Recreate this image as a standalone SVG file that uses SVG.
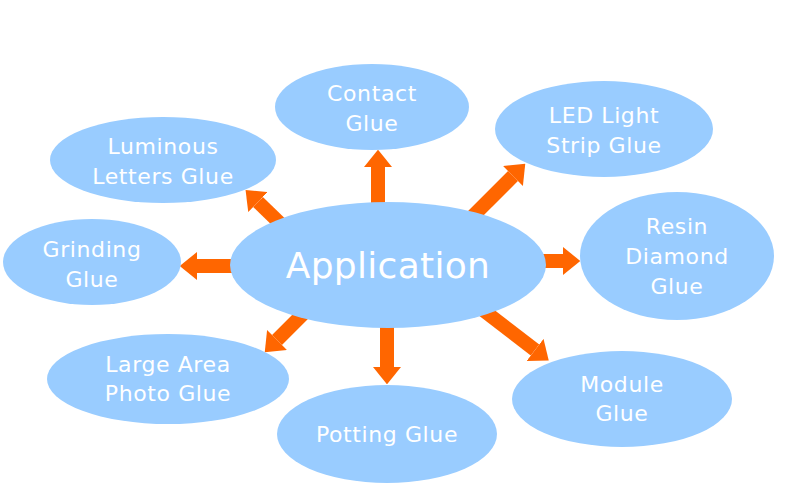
<svg xmlns="http://www.w3.org/2000/svg" width="800" height="496" viewBox="0 0 800 496">
<style>
.node ellipse{fill:#99CCFF;}
.node text{fill:#FFFFFF;font-family:"DejaVu Sans",Verdana,sans-serif;font-size:22px;letter-spacing:0.6px;text-anchor:middle;dominant-baseline:central;}
.node text.big{font-size:36px;letter-spacing:0.3px;}
.conn line{stroke:#FF6600;stroke-width:14;marker-end:url(#head);}
</style>
<defs>
<marker id="head" viewBox="0 0 13 21" markerWidth="1.25" markerHeight="2.0" refX="0" refY="10.5" orient="auto">
<path d="M0,0 L13,10.5 L0,21 Z" fill="#FF6600"/>
</marker>
</defs>
<rect width="800" height="496" fill="#FFFFFF"/>
<g id="connectors" class="conn">
<line x1="378" y1="215" x2="378" y2="167"/>
<line x1="290" y1="233" x2="258" y2="202"/>
<line x1="470" y1="219" x2="513" y2="176"/>
<line x1="530" y1="261" x2="563" y2="261"/>
<line x1="245" y1="266" x2="197" y2="266"/>
<line x1="310" y1="307" x2="277" y2="340"/>
<line x1="387" y1="315" x2="387" y2="367"/>
<line x1="470" y1="300" x2="535" y2="350"/>
</g>
<g id="application" class="node">
<ellipse cx="388" cy="265" rx="158" ry="63"/>
<text x="388" y="265" class="big">Application</text>
</g>
<g id="contact" class="node">
<ellipse cx="372" cy="107" rx="97" ry="43"/>
<text x="372" y="93">Contact</text>
<text x="372" y="123">Glue</text>
</g>
<g id="led" class="node">
<ellipse cx="604" cy="129" rx="109" ry="48"/>
<text x="604" y="115">LED Light</text>
<text x="604" y="145">Strip Glue</text>
</g>
<g id="resin" class="node">
<ellipse cx="677" cy="256" rx="97" ry="64"/>
<text x="677" y="226">Resin</text>
<text x="677" y="256">Diamond</text>
<text x="677" y="286">Glue</text>
</g>
<g id="luminous" class="node">
<ellipse cx="163" cy="160" rx="113" ry="43"/>
<text x="163" y="146">Luminous</text>
<text x="163" y="176">Letters Glue</text>
</g>
<g id="grinding" class="node">
<ellipse cx="92" cy="262" rx="89" ry="43"/>
<text x="92" y="249">Grinding</text>
<text x="92" y="279">Glue</text>
</g>
<g id="largearea" class="node">
<ellipse cx="168" cy="379" rx="121" ry="45"/>
<text x="168" y="364">Large Area</text>
<text x="168" y="393">Photo Glue</text>
</g>
<g id="potting" class="node">
<ellipse cx="387" cy="434" rx="110" ry="49"/>
<text x="387" y="434">Potting Glue</text>
</g>
<g id="module" class="node">
<ellipse cx="622" cy="399" rx="110" ry="48"/>
<text x="622" y="384">Module</text>
<text x="622" y="413">Glue</text>
</g>
</svg>
